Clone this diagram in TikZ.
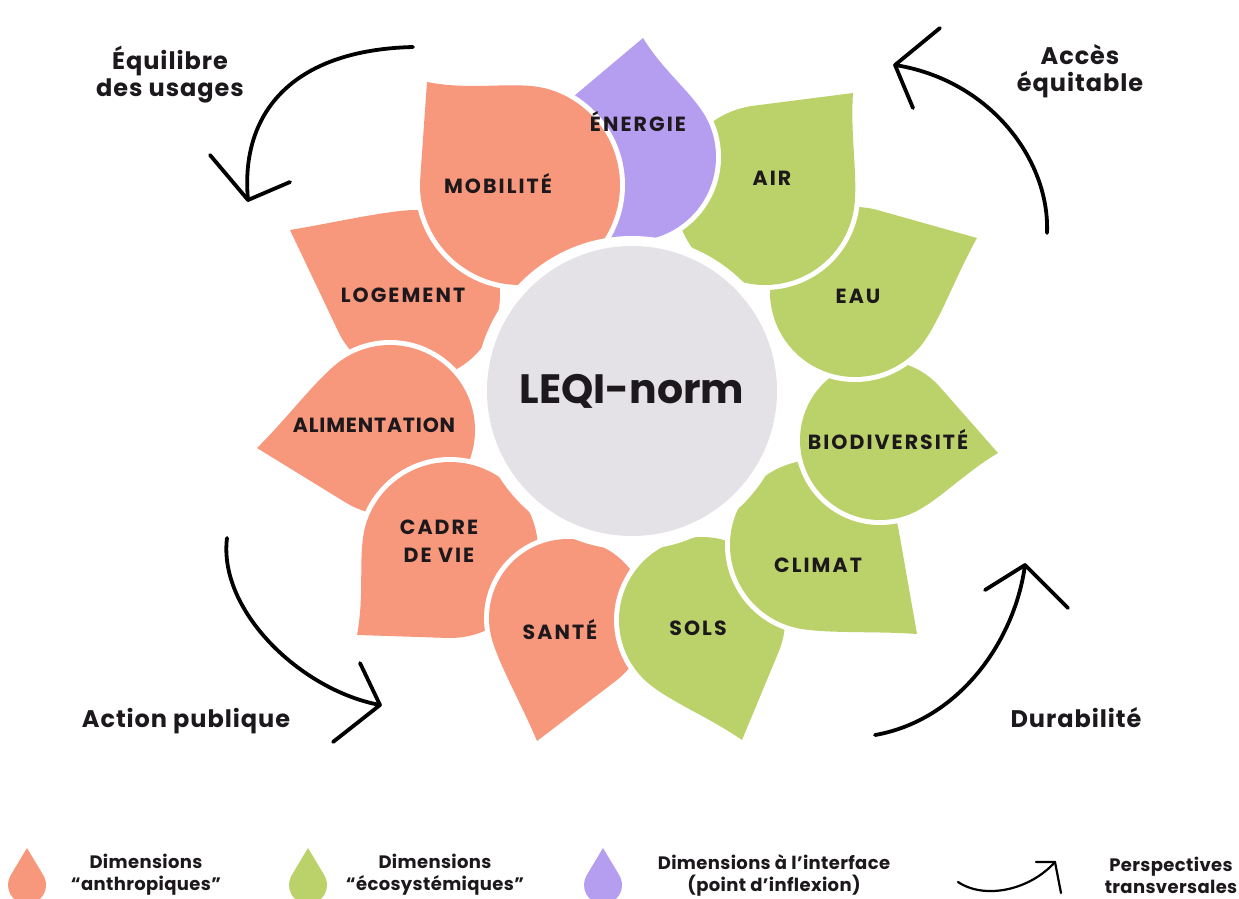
\documentclass[tikz,border=0pt]{standalone}
\usepackage{fontspec}
\setmainfont{Poppins}
\usetikzlibrary{calc}
\definecolor{salmon}{HTML}{F7977C}
\definecolor{leaf}{HTML}{BBD26B}
\definecolor{lav}{HTML}{B59EF0}
\definecolor{core}{HTML}{E4E2E6}
\definecolor{ink}{HTML}{1C181C}
% petal: colour, body centre x, y, body radius, tip x, y
\newcommand\petal[6]{%
  \pgfmathsetmacro\pang{atan2(#6-#3,#5-#2)}%
  \pgfmathsetmacro\pd{veclen(#5-#2,#6-#3)/#4}%
  \pgfmathsetmacro\ptg{acos(1/\pd)}%
  \begin{scope}[shift={(#2,#3)},rotate=-\pang,scale=#4]
    \path[fill=white,draw=white,line width=10pt,line join=round]
      (\pd,0) -- (-\ptg:1) arc[start angle=-\ptg,end angle=-300,radius=1]
      .. controls (0.8,0.69) and (\pd-0.4,0.3) .. (\pd,0) -- cycle;
    \fill[#1]
      (\pd,0) -- (-\ptg:1) arc[start angle=-\ptg,end angle=-300,radius=1]
      .. controls (0.8,0.69) and (\pd-0.4,0.3) .. (\pd,0) -- cycle;
  \end{scope}}
\newcommand\legdrop[2]{%
  \fill[#1] (#2,848) -- ($(#2,885)+(-30:19)$) arc[start angle=-30,end angle=210,radius=19] -- cycle;}
\begin{document}
\begin{tikzpicture}[x=1pt,y=-1pt,
  lab/.style={font=\fontsize{20.5}{28}\selectfont\bfseries\addfontfeature{LetterSpace=10}, text=ink, align=center, inner sep=0},
  side/.style={font=\fontsize{24}{27}\selectfont\bfseries\addfontfeature{LetterSpace=4}, text=ink, align=center, inner sep=0},
  leg/.style={font=\fontsize{18}{22}\selectfont\bfseries\addfontfeature{LetterSpace=2}, text=ink, align=center, inner sep=0},
  swing/.style={draw=black, line width=3.8pt, line cap=round, line join=round}]
\useasboundingbox (0,0) rectangle (1239,898);
\clip (0,0) rectangle (1239,898);
\fill[white] (0,0) rectangle (1239,898);
% petals, lowest first
\petal{salmon}{415}{295}{85}{290}{230}
\petal{salmon}{390}{430}{85}{257}{448}
\petal{salmon}{450}{550}{88}{357}{635}
\petal{salmon}{568}{618}{79}{537}{741}
\petal{leaf}{702}{620}{83}{742}{740}
\petal{leaf}{815}{545}{85}{917}{634}
\petal{leaf}{880}{440}{80}{998}{453}
\petal{leaf}{855}{292}{85}{977}{238}
\petal{leaf}{765}{195}{90}{853}{93}
\petal{lav}{632}{157}{84}{643}{38}
\petal{salmon}{520}{185}{100}{427}{82}
% centre
\node[circle, fill=white, minimum size=314pt, inner sep=0] (ring) at (632,393) {};
\node[circle, fill=core, minimum size=290pt, inner sep=0, font=\fontsize{41}{44}\selectfont\bfseries, text=ink] (core) at (632,391) {LEQI-norm};
% petal labels
\node[lab] (energie) at (638,122) {ÉNERGIE};
\node[lab] (mobilite) at (498,184) {MOBILITÉ};
\node[lab] (air) at (772,178) {AIR};
\node[lab] (eau) at (858,296) {EAU};
\node[lab] (bio) at (888,440) {BIODIVERSITÉ};
\node[lab] (climat) at (818,565) {CLIMAT};
\node[lab] (sols) at (698,628) {SOLS};
\node[lab] (sante) at (560,630) {SANTÉ};
\node[lab] (cadre) at (439,541) {CADRE\\DE VIE};
\node[lab, font=\fontsize{20.5}{28}\selectfont\bfseries\addfontfeature{LetterSpace=4}] (alim) at (374,425) {ALIMENTATION};
\node[lab] (logement) at (403,295) {LOGEMENT};
% side labels
\node[side] (equil) at (170,75) {Équilibre\\des usages};
\node[side] (acces) at (1080,71) {Accès\\équitable};
\node[side] (action) at (186,721) {Action publique};
\node[side] (durab) at (1076,718) {Durabilité};
% curved arrows
\coordinate (a1s) at (413,47); \coordinate (a1t) at (248,200);
\coordinate (a1l) at (210,155); \coordinate (a1r) at (290,182);
\draw[swing] (a1s) .. controls (290,50) and (240,115) .. (a1t);
\draw[swing] (a1l) -- (a1t) -- (a1r);
\coordinate (a2s) at (1047,233); \coordinate (a2t) at (895,65);
\coordinate (a2l) at (940,28); \coordinate (a2r) at (913,108);
\draw[swing] (a2s) .. controls (1050,160) and (990,80) .. (a2t);
\draw[swing] (a2l) -- (a2t) -- (a2r);
\coordinate (a3s) at (227,538); \coordinate (a3t) at (380,705);
\coordinate (a3l) at (360,663); \coordinate (a3r) at (333,742);
\draw[swing] (a3s) .. controls (218,610) and (300,690) .. (a3t);
\draw[swing] (a3l) -- (a3t) -- (a3r);
\coordinate (a4s) at (875,735); \coordinate (a4t) at (1025,565);
\coordinate (a4l) at (985,590); \coordinate (a4r) at (1068,608);
\draw[swing] (a4s) .. controls (960,720) and (1015,640) .. (a4t);
\draw[swing] (a4l) -- (a4t) -- (a4r);
% legend
\legdrop{salmon}{27}
\legdrop{leaf}{308}
\legdrop{lav}{603}
\node[leg] (l1) at (146,875) {Dimensions\\“anthropiques”};
\node[leg] (l2) at (435,875) {Dimensions\\“écosystémiques”};
\node[leg] (l3) at (774,875) {Dimensions à l’interface\\(point d’inflexion)};
\node[leg] (l4) at (1171,875) {Perspectives\\transversales};
\coordinate (lgs) at (958,882); \coordinate (lgt) at (1055,862);
\coordinate (lgl) at (1036,862); \coordinate (lgr) at (1061,893);
\draw[swing, line width=2.2pt] (lgs) .. controls (985,900) and (1030,890) .. (lgt);
\draw[swing, line width=2.2pt] (lgl) -- (lgt) -- (lgr);
\end{tikzpicture}
\end{document}
